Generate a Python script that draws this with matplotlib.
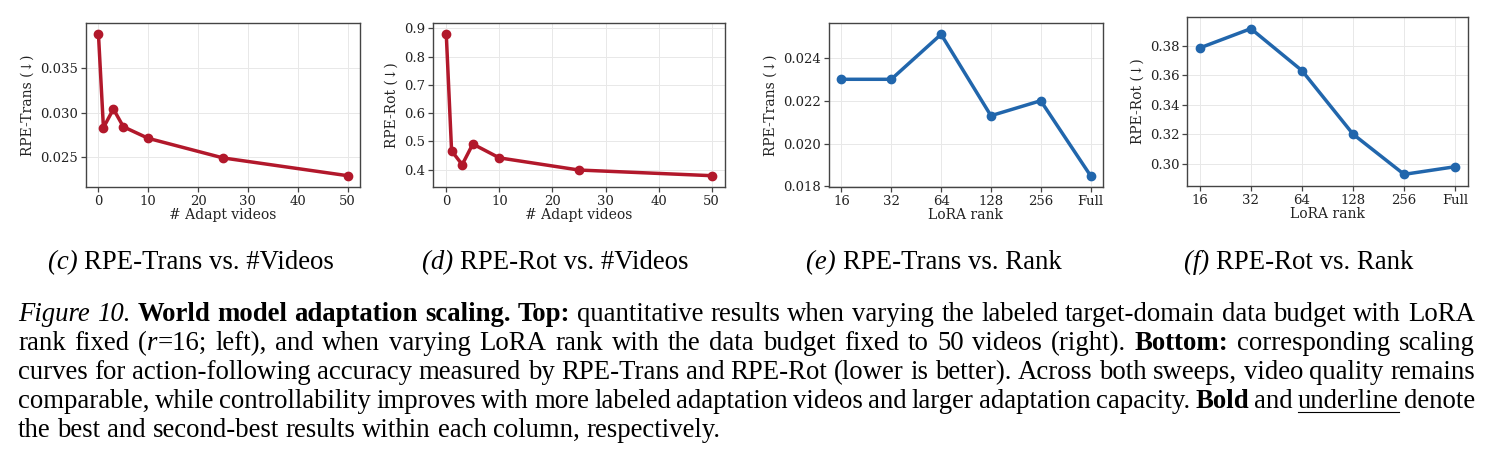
import matplotlib
matplotlib.use("Agg")
import matplotlib.pyplot as plt
from matplotlib.lines import Line2D

# data
videos = [0, 1, 3, 5, 10, 25, 50]
trans_vs_videos = [0.0388, 0.0283, 0.0304, 0.0284, 0.0271, 0.0249, 0.0229]
rot_vs_videos = [0.879, 0.467, 0.418, 0.491, 0.442, 0.399, 0.379]

ranks = ["16", "32", "64", "128", "256", "Full"]
trans_vs_rank = [0.0230, 0.0230, 0.0251, 0.0213, 0.0220, 0.0185]
rot_vs_rank = [0.3786, 0.3917, 0.3632, 0.3200, 0.2927, 0.2979]

subcaptions = [
    ("(c)", "RPE-Trans vs. #Videos"),
    ("(d)", "RPE-Rot vs. #Videos"),
    ("(e)", "RPE-Trans vs. Rank"),
    ("(f)", "RPE-Rot vs. Rank"),
]

RED = "#b2182b"
BLUE = "#2166ac"
W, H = 1492, 463

SERIF = ["DejaVu Serif", "DejaVu Sans"]
TIMES = "Liberation Serif"

plt.rcParams["font.family"] = SERIF
plt.rcParams["font.size"] = 10
plt.rcParams["xtick.labelsize"] = 9.5
plt.rcParams["ytick.labelsize"] = 9.5

fig = plt.figure(figsize=(W / 100, H / 100), dpi=100)


def px_axes(left, top, right, bottom):
    return fig.add_axes([left / W, 1 - bottom / H, (right - left) / W, (bottom - top) / H])


def style_axes(ax, xlabel, ylabel):
    ax.grid(True, color="#e8e8e8", linewidth=0.7)
    ax.set_axisbelow(True)
    for s in ax.spines.values():
        s.set_color("#444444")
        s.set_linewidth(1.0)
    ax.tick_params(length=3.5, width=0.9, pad=2, color="#444444", labelcolor="#222222")
    ax.set_xlabel(xlabel, fontsize=10, labelpad=0, color="#222222")
    ax.set_ylabel(ylabel, fontsize=10, labelpad=4, color="#222222")
    ax.margins(y=0.08)


ax_c = px_axes(86, 23, 360, 187)
ax_c.plot(videos, trans_vs_videos, "-o", color=RED, lw=2.5, ms=6)
ax_c.set_yticks([0.025, 0.030, 0.035])
ax_c.set_xticks([0, 10, 20, 30, 40, 50])
style_axes(ax_c, "# Adapt videos", "RPE-Trans (\u2193)")

ax_d = px_axes(433, 23, 725, 187)
ax_d.plot(videos, rot_vs_videos, "-o", color=RED, lw=2.5, ms=6)
ax_d.set_yticks([0.4, 0.5, 0.6, 0.7, 0.8, 0.9])
ax_d.set_xticks([0, 10, 20, 30, 40, 50])
style_axes(ax_d, "# Adapt videos", "RPE-Rot (\u2193)")

ax_e = px_axes(829, 23, 1103, 187)
ax_e.plot(range(len(ranks)), trans_vs_rank, "-o", color=BLUE, lw=2.5, ms=6)
ax_e.set_xticks(range(len(ranks)))
ax_e.set_xticklabels(ranks)
ax_e.set_yticks([0.018, 0.020, 0.022, 0.024])
style_axes(ax_e, "LoRA rank", "RPE-Trans (\u2193)")

ax_f = px_axes(1187, 17, 1468, 186)
ax_f.plot(range(len(ranks)), rot_vs_rank, "-o", color=BLUE, lw=2.5, ms=6)
ax_f.set_xticks(range(len(ranks)))
ax_f.set_xticklabels(ranks)
ax_f.set_yticks([0.30, 0.32, 0.34, 0.36, 0.38])
style_axes(ax_f, "LoRA rank", "RPE-Rot (\u2193)")

renderer = fig.canvas.get_renderer()
CAP_SIZE = 19.3


def text_width(s, **kw):
    t = fig.text(0, 0, s, fontsize=CAP_SIZE, family=TIMES, **kw)
    w = t.get_window_extent(renderer).width
    t.remove()
    return w


# sub-captions, centred under each panel
sub_centers = [191, 555, 934, 1299]
for (tag, rest), cx in zip(subcaptions, sub_centers):
    w_tag = text_width(tag + " ", style="italic")
    w_rest = text_width(rest)
    x0 = cx - (w_tag + w_rest) / 2
    fig.text(x0 / W, 1 - 269 / H, tag + " ", fontsize=CAP_SIZE, family=TIMES,
             style="italic", va="baseline")
    fig.text((x0 + w_tag) / W, 1 - 269 / H, rest, fontsize=CAP_SIZE, family=TIMES,
             va="baseline")

# caption lines as (text, style) runs
caption_lines = [
    [("Figure 10.", "italic"), (" ", "normal"),
     ("World model adaptation scaling. Top:", "bold"),
     (" quantitative results when varying the labeled target-domain data budget with LoRA", "normal")],
    [("rank fixed (", "normal"), ("r", "italic"), ("=16; left), and when varying LoRA rank with the data budget fixed to 50 videos (right). ", "normal"),
     ("Bottom:", "bold"), (" corresponding scaling", "normal")],
    [("curves for action-following accuracy measured by RPE-Trans and RPE-Rot (lower is better). Across both sweeps, video quality remains", "normal")],
    [("comparable, while controllability improves with more labeled adaptation videos and larger adaptation capacity. ", "normal"),
     ("Bold", "bold"), (" and ", "normal"), ("underline", "underline"), (" denote", "normal")],
    [("the best and second-best results within each column, respectively.", "normal")],
]


def run_kw(style):
    if style == "italic":
        return {"style": "italic"}
    if style == "bold":
        return {"weight": "bold"}
    return {}


def split_words(runs):
    words = [[]]
    for text, style in runs:
        parts = text.split(" ")
        for i, p in enumerate(parts):
            if i > 0:
                words.append([])
            if p:
                words[-1].append((p, style))
    return [w for w in words if w]


left_px, right_px = 18, 1475
base_px = [321, 350, 379, 408, 437]
space_w = text_width("a b") - text_width("ab")

for li, (runs, by) in enumerate(zip(caption_lines, base_px)):
    words = split_words(runs)
    widths = [[text_width(p, **run_kw(s)) for p, s in w] for w in words]
    total = sum(sum(ws) for ws in widths)
    if li < len(caption_lines) - 1 and len(words) > 1:
        gap = (right_px - left_px - total) / (len(words) - 1)
    else:
        gap = space_w
    x = left_px
    for w, ws in zip(words, widths):
        for (p, s), pw in zip(w, ws):
            fig.text(x / W, 1 - by / H, p, fontsize=CAP_SIZE, family=TIMES,
                     va="baseline", **run_kw(s))
            if s == "underline":
                fig.add_artist(Line2D([x / W, (x + pw) / W], [1 - (by + 4) / H] * 2,
                                      transform=fig.transFigure, color="black", lw=0.8))
            x += pw
        x += gap

fig.savefig("out.png", dpi=100)
